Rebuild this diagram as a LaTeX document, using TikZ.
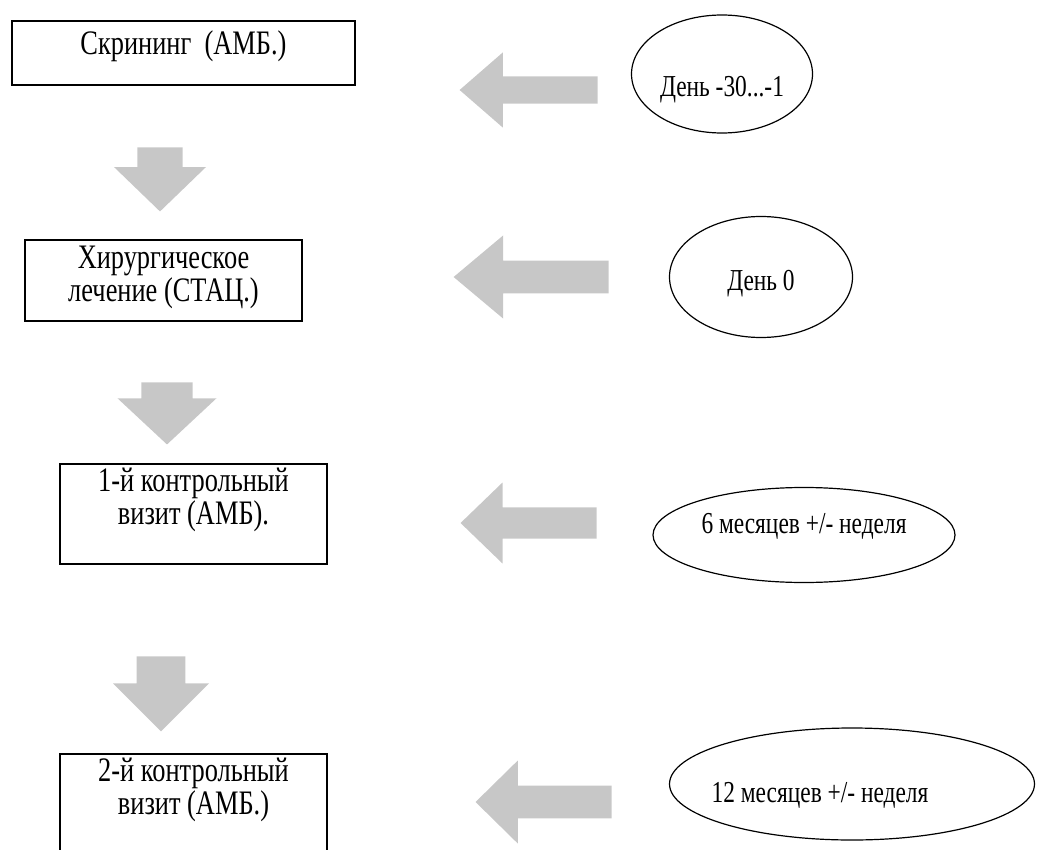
\documentclass[tikz,border=0pt]{standalone}
\usepackage{fontspec}
\usepackage{graphicx}
\setmainfont{Liberation Serif}
\usetikzlibrary{shapes.geometric,shapes.arrows}
% the scanned letters are taller than they are wide
\newcommand{\tallrow}[1]{\scalebox{1}[1.3]{#1}}

\begin{document}
\begin{tikzpicture}[x=0.5pt,y=-0.5pt,
  stage/.style={draw,line width=0.9pt,inner sep=0,minimum width=#1},
  lbl/.style={anchor=north,inner sep=0,align=center,font=\fontsize{13.2}{16.5}\selectfont},
  when/.style={draw,ellipse,line width=0.6pt,inner sep=0,text depth=0pt,font=\fontsize{11.7}{14}\selectfont},
  blockarr/.style={single arrow,fill=black!22,anchor=tip},
  larr/.style n args={4}{blockarr,shape border rotate=180,minimum height=#1,minimum width=#2,inner sep=#3,single arrow tip angle=#4},
  darr/.style n args={4}{blockarr,shape border rotate=270,minimum height=#1,minimum width=#2,inner sep=#3,single arrow tip angle=#4}]
  \clip (0,0) rectangle (1038,850);
  % stages
  \node[stage=171.5pt,minimum height=32pt,label={[lbl,yshift=-5.2pt]north:{\tallrow{Скрининг\ \ (АМБ.)}}}] (scr) at (183.5,53) {};
  \node[stage=138.5pt,minimum height=40.5pt,label={[lbl,yshift=-3.2pt]north:{\tallrow{Хирургическое}\\\tallrow{лечение (СТАЦ.)}}}] (surg) at (163.5,280.5) {};
  \node[stage=133.5pt,minimum height=50pt,label={[lbl,yshift=-2.2pt]north:{\tallrow{1-й контрольный}\\\tallrow{визит (АМБ).}}}] (visit1) at (193.5,514) {};
  \node[stage=133.5pt,minimum height=73pt,label={[lbl,yshift=-2.2pt]north:{\tallrow{2-й контрольный}\\\tallrow{визит (АМБ.)}}}] (visit2) at (193.5,827) {};
  % time points
  \node[when,minimum width=90.5pt,minimum height=59pt,text height=23pt] (day1) at (722,74) {\tallrow{День -30...-1}};
  \node[when,minimum width=91.5pt,minimum height=60.5pt,text height=13pt] (day0) at (761,277) {\tallrow{День 0}};
  \node[when,minimum width=151pt,minimum height=47.5pt,text height=0pt,text depth=2pt] (m6) at (804,535) {\tallrow{6 месяцев +/- неделя}};
  \node[when,minimum width=182.5pt,minimum height=56pt,text height=18pt] (m12) at (852,784) {\hspace*{-32pt}\tallrow{12 месяцев +/- неделя}};
  % block arrows
  \node[larr={69pt}{37.5pt}{3.9pt}{82}] (a1) at (459,90) {};
  \node[larr={77.5pt}{41.5pt}{4.4pt}{80}] (a2) at (453,277) {};
  \node[larr={68pt}{40.5pt}{4.25pt}{88}] (a3) at (460,523) {};
  \node[larr={68pt}{41.5pt}{4.4pt}{89}] (a4) at (475,802) {};
  \node[darr={32pt}{46pt}{6.7pt}{92}] (d1) at (160,212) {};
  \node[darr={31pt}{49.5pt}{7.4pt}{94}] (d2) at (167,445) {};
  \node[darr={37.5pt}{48pt}{7.1pt}{90}] (d3) at (161,732) {};
\end{tikzpicture}
\end{document}
